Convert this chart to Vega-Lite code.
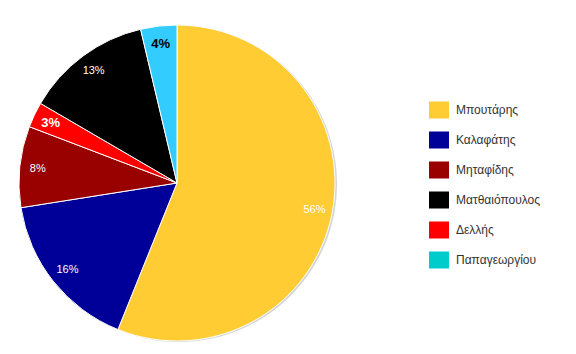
{
  "$schema": "https://vega.github.io/schema/vega-lite/v6.json",
  "width": 316,
  "height": 316,
  "padding": {"left": 17, "top": 23, "right": 5, "bottom": 12},
  "background": "white",
  "view": {"stroke": null},
  "data": {
    "values": [
      {"name": "Μπουτάρης", "v": 56.1, "o": 1, "lbl": "56%"},
      {"name": "Καλαφάτης", "v": 16.4, "o": 2, "lbl": "16%"},
      {"name": "Μηταφίδης", "v": 8.3, "o": 3, "lbl": "8%"},
      {"name": "Δελλής", "v": 2.6, "o": 4, "lbl": "3%"},
      {"name": "Ματθαιόπουλος", "v": 12.9, "o": 5, "lbl": "13%"},
      {"name": "Παπαγεωργίου", "v": 3.7, "o": 6, "lbl": "4%"}
    ]
  },
  "resolve": {"scale": {"color": "independent"}, "legend": {"color": "independent"}},
  "layer": [
    {
      "mark": {"type": "arc", "outerRadius": 158, "xOffset": 2, "yOffset": 1, "color": "#888888", "opacity": 0.35},
      "encoding": {
        "theta": {"field": "v", "type": "quantitative", "stack": true},
        "order": {"field": "o", "type": "quantitative"}
      }
    },
    {
      "mark": {"type": "arc", "outerRadius": 158, "stroke": "white", "strokeWidth": 1},
      "encoding": {
        "theta": {"field": "v", "type": "quantitative", "stack": true},
        "order": {"field": "o", "type": "quantitative"},
        "color": {
          "field": "name",
          "type": "nominal",
          "scale": {
            "domain": ["Μπουτάρης", "Καλαφάτης", "Μηταφίδης", "Ματθαιόπουλος", "Δελλής", "Παπαγεωργίου"],
            "range": ["#FFCC33", "#000099", "#990000", "#000000", "#FF0000", "#33CCFF"]
          },
          "legend": null
        }
      }
    },
    {
      "mark": {"type": "arc", "outerRadius": 0, "innerRadius": 0},
      "encoding": {
        "theta": {"field": "v", "type": "quantitative", "stack": true},
        "order": {"field": "o", "type": "quantitative"},
        "color": {
          "field": "name",
          "type": "nominal",
          "scale": {
            "domain": ["Μπουτάρης", "Καλαφάτης", "Μηταφίδης", "Ματθαιόπουλος", "Δελλής", "Παπαγεωργίου"],
            "range": ["#FFCC33", "#000099", "#990000", "#000000", "#FF0000", "#00CCCC"]
          },
          "legend": {
            "title": null,
            "orient": "none",
            "legendX": 410,
            "legendY": 75,
            "symbolType": "M-1,-0.85H1V0.85H-1Z",
            "symbolSize": 400,
            "symbolStrokeWidth": 0,
            "symbolOpacity": 1,
            "rowPadding": 11,
            "labelOffset": 7,
            "labelFont": "Liberation Sans",
            "labelFontSize": 12,
            "labelColor": "#333333",
            "labelLimit": 200
          }
        }
      }
    },
    {
      "mark": {"type": "text", "radius": 140, "font": "Liberation Sans", "fontSize": 11, "color": "white"},
      "encoding": {
        "theta": {"field": "v", "type": "quantitative", "stack": true},
        "order": {"field": "o", "type": "quantitative"},
        "text": {
          "condition": {"test": "datum.name !== 'Δελλής' && datum.name !== 'Παπαγεωργίου'", "field": "lbl"},
          "value": ""
        }
      }
    },
    {
      "mark": {"type": "text", "radius": 140, "font": "Liberation Sans", "fontSize": 13, "fontWeight": "bold"},
      "encoding": {
        "theta": {"field": "v", "type": "quantitative", "stack": true},
        "order": {"field": "o", "type": "quantitative"},
        "text": {
          "condition": {"test": "datum.name === 'Δελλής' || datum.name === 'Παπαγεωργίου'", "field": "lbl"},
          "value": ""
        },
        "color": {
          "condition": {"test": "datum.name === 'Παπαγεωργίου'", "value": "#000000"},
          "value": "#FFFFFF"
        }
      }
    }
  ]
}
